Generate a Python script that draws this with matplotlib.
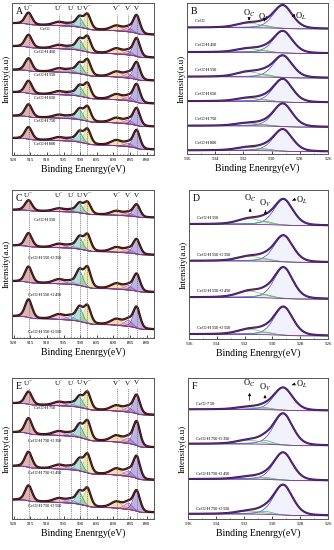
import numpy as np
import matplotlib
matplotlib.use('Agg')
import matplotlib.pyplot as plt
from matplotlib.ticker import MultipleLocator

plt.rcParams['font.family'] = 'serif'
plt.rcParams['font.serif'] = ['Liberation Serif', 'DejaVu Serif']
plt.rcParams['mathtext.fontset'] = 'stix'

# ---- Ce 3d fitted components ----
ce_names = ["V", "V$'$", "V$''$", "V$'''$", "U", "U$'$", "U$''$", "U$'''$"]
ce_pos = [883.0, 885.5, 889.0, 897.8, 900.2, 902.8, 906.3, 915.5]
ce_fwhm = [2.4, 2.8, 4.0, 2.4, 2.4, 3.0, 4.0, 2.5]
ce_colors = ['#3a2aa8', '#a040d0', '#e8a020', '#c0c020', '#20a0a0', '#4a90e0', '#e05080', '#a02828']
ce_step = 0.65

a_samples = ['CeO$_2$', 'CeO$_2$-H450', 'CeO$_2$-H550', 'CeO$_2$-H650', 'CeO$_2$-H750', 'CeO$_2$-H800']
a_amps = [[1.00, 0.22, 0.28, 0.80, 0.55, 0.12, 0.20, 0.65],
          [1.00, 0.20, 0.30, 0.85, 0.60, 0.12, 0.20, 0.70],
          [0.95, 0.25, 0.30, 0.85, 0.55, 0.15, 0.20, 0.70],
          [1.00, 0.22, 0.30, 0.80, 0.55, 0.12, 0.18, 0.70],
          [0.95, 0.22, 0.28, 0.80, 0.55, 0.12, 0.18, 0.70],
          [1.00, 0.20, 0.30, 0.80, 0.55, 0.12, 0.18, 0.68]]

c_samples = ['CeO$_2$-H550', 'CeO$_2$-H550-O350', 'CeO$_2$-H550-O450', 'CeO$_2$-H550-O550']
c_amps = [[1.00, 0.25, 0.35, 0.95, 0.75, 0.15, 0.25, 0.85],
          [1.20, 0.30, 0.40, 1.30, 0.95, 0.20, 0.30, 1.10],
          [1.40, 0.35, 0.45, 1.60, 1.20, 0.20, 0.35, 1.30],
          [1.70, 0.50, 0.50, 1.40, 1.10, 0.30, 0.40, 1.50]]

e_samples = ['CeO$_2$-H750', 'CeO$_2$-H750-O350', 'CeO$_2$-H750-O450', 'CeO$_2$-H750-O550']
e_amps = [[1.00, 0.25, 0.30, 0.90, 0.55, 0.15, 0.20, 0.70],
          [1.30, 0.30, 0.35, 1.00, 0.65, 0.15, 0.22, 0.85],
          [1.20, 0.30, 0.35, 1.00, 0.60, 0.15, 0.22, 0.85],
          [1.10, 0.35, 0.35, 0.95, 0.65, 0.18, 0.22, 0.85]]

# ---- O 1s fitted components ----
o_pos = [529.2, 530.5, 531.6]
o_fwhm = [1.6, 1.2, 2.0]
o_colors = ['#3030e0', '#20b0a0', '#90b020']
o_step = 0.06

b_samples = ['CeO$_2$', 'CeO$_2$-H450', 'CeO$_2$-H550', 'CeO$_2$-H650', 'CeO$_2$-H750', 'CeO$_2$-H800']
b_amps = [[1.00, 0.10, 0.20], [0.95, 0.08, 0.16], [0.95, 0.12, 0.22],
          [1.00, 0.08, 0.14], [1.00, 0.06, 0.12], [0.95, 0.08, 0.14]]

d_samples = ['CeO$_2$-H550', 'CeO$_2$-H550-O350', 'CeO$_2$-H550-O450', 'CeO$_2$-H550-O550']
d_amps = [[1.00, 0.12, 0.22], [1.02, 0.10, 0.18], [1.20, 0.12, 0.25], [1.10, 0.10, 0.20]]

f_samples = ['CeO$_2$-750', 'CeO$_2$-H750-O350', 'CeO$_2$-H750-O450', 'CeO$_2$-H750-O550']
f_amps = [[0.90, 0.08, 0.10], [1.25, 0.15, 0.15], [1.10, 0.08, 0.10], [1.20, 0.12, 0.12]]


def pv(x, x0, w, h, eta=0.3):
    g = np.exp(-4 * np.log(2) * (x - x0) ** 2 / w ** 2)
    l = 1 / (1 + 4 * (x - x0) ** 2 / w ** 2)
    return h * ((1 - eta) * g + eta * l)


def stack(ax, x, samples, amps, pos, fwhm, colors, step, spacing, lab_x, lab_dy, lab_ha,
          data_col, fill_alpha, data_lw):
    n = len(samples)
    tops = []
    for i, (name, a) in enumerate(zip(samples, amps)):
        off = (n - 1 - i) * spacing
        comps = [pv(x, p, w, h) for p, w, h in zip(pos, fwhm, a)]
        sig = np.sum(comps, axis=0)
        cum = np.cumsum(sig)
        bg = off + step * a[0] * cum / cum[-1]
        for c, col in zip(comps, colors):
            if fill_alpha > 0:
                ax.fill_between(x, bg, bg + c, color=col, alpha=fill_alpha, lw=0)
            ax.plot(x, bg + c, color=col, lw=0.45)
        ax.plot(x, bg, color='#8030b0', lw=0.6)
        ax.plot(x, bg + sig, color=data_col, lw=data_lw)
        ax.plot(x, bg + sig, color='#e03030', lw=0.3, alpha=0.8)
        ax.text(lab_x, off + lab_dy, name, fontsize=3.3, ha=lab_ha, va='center')
        tops.append((bg, sig))
    return tops


def style(ax, xlim, major, minor, letter):
    ax.set_xlim(*xlim)
    ax.xaxis.set_major_locator(MultipleLocator(major))
    ax.xaxis.set_minor_locator(MultipleLocator(minor))
    ax.tick_params(axis='x', labelsize=3.5, length=2, width=0.5, direction='in', pad=2)
    ax.tick_params(axis='x', which='minor', length=1, width=0.4, direction='in')
    ax.set_yticks([])
    for s in ax.spines.values():
        s.set_linewidth(0.7)
        s.set_color('#555555')
    ax.set_xlabel('Binding Enenrgy(eV)', fontsize=7, labelpad=2)
    ax.set_ylabel('Intensity(a.u)', fontsize=6.5, labelpad=1)
    ax.text(0.025, 0.975, letter, transform=ax.transAxes, fontsize=7, va='top', ha='left')


def ce_panel(rect, letter, samples, amps, spacing, ylim, lab_dy):
    ax = fig.add_axes(rect)
    x = np.linspace(876, 922, 700)
    stack(ax, x, samples, amps, ce_pos, ce_fwhm, ce_colors, ce_step, spacing, 910.5, lab_dy,
          'center', '#201010', 0.35, 1.6)
    ax.set_ylim(*ylim)
    ytop = ylim[0] + 0.93 * (ylim[1] - ylim[0])
    for p, nm in zip(ce_pos, ce_names):
        ax.plot([p, p], [ylim[0], ytop], color='#666666', lw=0.5, ls=(0, (1.5, 1.2)))
        ax.text(p, 0.965, nm, transform=ax.get_xaxis_transform(), fontsize=5, ha='center', va='center')
    style(ax, (920.5, 877.8), 5, 1, letter)
    return ax


def o_panel(rect, letter, samples, amps, spacing, ylim, lab_dy, ann_y):
    ax = fig.add_axes(rect)
    x = np.linspace(525.5, 536.5, 500)
    tops = stack(ax, x, samples, amps, o_pos, o_fwhm, o_colors, o_step, spacing, 535.5, lab_dy,
                 'left', '#2a1c78', 0.06, 1.5)
    ax.set_ylim(*ylim)
    bg, sig = tops[0]
    rng = ylim[1] - ylim[0]
    # O_C and O_V arrows pointing up from the top trace
    for xp, lab, fy in [(531.6, 'O$_C$', ann_y[0]), (530.5, 'O$_V$', ann_y[1])]:
        yc = np.interp(xp, x, bg + sig)
        yt = ylim[0] + fy * rng
        ax.annotate('', xy=(xp, yt - 0.05 * rng), xytext=(xp, yc + 0.02 * rng),
                    arrowprops=dict(arrowstyle='-|>', lw=0.5, color='k', mutation_scale=4))
        ax.text(xp, yt, lab, fontsize=6, ha='center', va='center')
    yt = ylim[0] + ann_y[2] * rng
    ax.text(527.9, yt, 'O$_L$', fontsize=6, ha='center', va='center')
    ax.annotate('', xy=(528.75, yt - 0.01 * rng), xytext=(528.35, yt + 0.005 * rng),
                arrowprops=dict(arrowstyle='-|>', lw=0.5, color='k', mutation_scale=4))
    style(ax, (536, 526), 2, 1, letter)
    return ax


W, H = 334, 550
fig = plt.figure(figsize=(W / 100, H / 100), dpi=100)


def rect(l, r, t, b):
    return [l / W, 1 - b / H, (r - l) / W, (b - t) / H]


ce_panel(rect(12, 154, 3, 155), 'A', a_samples, a_amps, 1.3, (-0.3, 8.3), 0.3)
o_panel(rect(187, 328, 3, 154), 'B', b_samples, b_amps, 1.07, (-0.1, 6.48), 0.35, (0.934, 0.907, 0.914))
ce_panel(rect(12, 154, 190, 338), 'C', c_samples, c_amps, 3.1, (-0.7, 11.6), -0.25)
o_panel(rect(189, 328, 190, 339), 'D', d_samples, d_amps, 1.43, (-0.12, 5.68), 0.3, (0.946, 0.913, 0.933))
ce_panel(rect(12, 154, 378, 519), 'E', e_samples, e_amps, 1.8, (-0.35, 7.45), 0.37)
o_panel(rect(188, 328, 378, 519), 'F', f_samples, f_amps, 1.4, (-0.13, 5.51), 0.27, (0.965, 0.93, 0.953))

fig.savefig('out.png', dpi=100)
